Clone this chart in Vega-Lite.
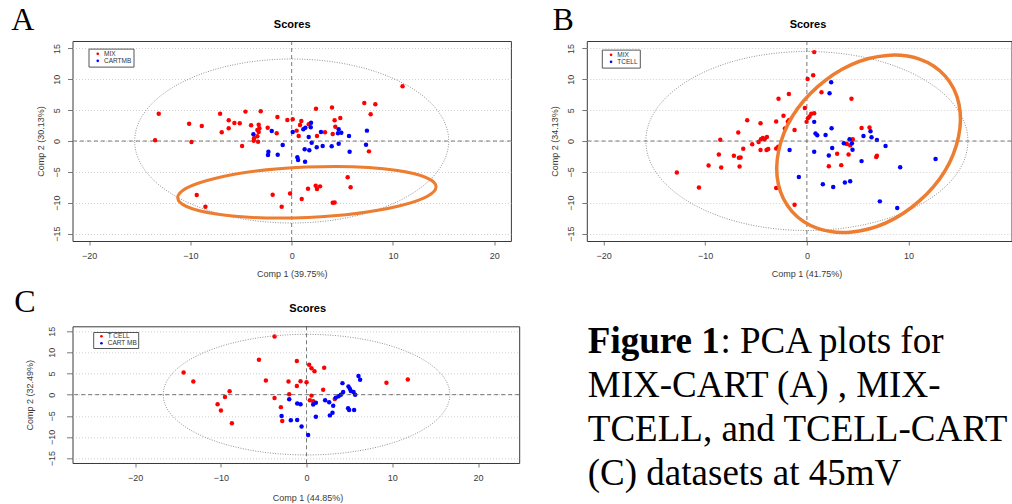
{
  "$schema": "https://vega.github.io/schema/vega-lite/v6.json",
  "padding": {"left": 10.5, "top": 3, "right": 0, "bottom": 0},
  "background": "white",
  "columns": 2,
  "align": "none",
  "bounds": "flush",
  "spacing": {"row": 85.3, "column": 67.3},
  "resolve": {"scale": {"color": "independent"}, "legend": {"color": "independent"}},
  "datasets": {
    "A": [
      {"x":10.95,"y":8.86,"g":"MIX"},{"x":7.17,"y":6.16,"g":"MIX"},{"x":8.26,"y":5.95,"g":"MIX"},{"x":7.8,"y":4.32,"g":"MIX"},{"x":2.4,"y":5.24,"g":"MIX"},{"x":3.98,"y":5.41,"g":"MIX"},{"x":4.8,"y":3.73,"g":"MIX"},{"x":4.24,"y":3.35,"g":"MIX"},{"x":-13.13,"y":4.43,"g":"MIX"},{"x":-13.49,"y":0.11,"g":"MIX"},{"x":-10.13,"y":2.81,"g":"MIX"},{"x":-8.88,"y":2.43,"g":"MIX"},{"x":-9.9,"y":-0.16,"g":"MIX"},{"x":-7.07,"y":4.43,"g":"MIX"},{"x":-6.22,"y":3.35,"g":"MIX"},{"x":-5.66,"y":2.92,"g":"MIX"},{"x":-5.13,"y":2.86,"g":"MIX"},{"x":-4.57,"y":4.76,"g":"MIX"},{"x":-3.06,"y":4.81,"g":"MIX"},{"x":-6.22,"y":2.05,"g":"MIX"},{"x":-6.91,"y":1.41,"g":"MIX"},{"x":-4.01,"y":2.54,"g":"MIX"},{"x":-3.26,"y":2.65,"g":"MIX"},{"x":-3.19,"y":2.05,"g":"MIX"},{"x":-3.39,"y":1.78,"g":"MIX"},{"x":-3.26,"y":1.46,"g":"MIX"},{"x":-3.72,"y":0.43,"g":"MIX"},{"x":-3.75,"y":0.05,"g":"MIX"},{"x":-3.32,"y":-0.11,"g":"MIX"},{"x":-3.39,"y":0.76,"g":"MIX"},{"x":-2.37,"y":2.16,"g":"MIX"},{"x":-1.48,"y":1.24,"g":"MIX"},{"x":-4.9,"y":-0.81,"g":"MIX"},{"x":-1.41,"y":3.89,"g":"MIX"},{"x":-0.43,"y":3.41,"g":"MIX"},{"x":0.1,"y":3.51,"g":"MIX"},{"x":0.95,"y":3.24,"g":"MIX"},{"x":0.82,"y":2.59,"g":"MIX"},{"x":1.68,"y":2.7,"g":"MIX"},{"x":0.49,"y":1.68,"g":"MIX"},{"x":0.69,"y":0.81,"g":"MIX"},{"x":2.5,"y":0.81,"g":"MIX"},{"x":3.29,"y":1.41,"g":"MIX"},{"x":4.31,"y":2.32,"g":"MIX"},{"x":4.05,"y":1.14,"g":"MIX"},{"x":7.63,"y":-1.68,"g":"MIX"},{"x":5.53,"y":-5.89,"g":"MIX"},{"x":5.82,"y":-7.51,"g":"MIX"},{"x":2.37,"y":-7.24,"g":"MIX"},{"x":2.8,"y":-7.35,"g":"MIX"},{"x":2.5,"y":-7.78,"g":"MIX"},{"x":1.61,"y":-7.73,"g":"MIX"},{"x":-0.16,"y":-8.49,"g":"MIX"},{"x":-1.88,"y":-8.7,"g":"MIX"},{"x":0.99,"y":-9.41,"g":"MIX"},{"x":4.05,"y":-10.0,"g":"MIX"},{"x":4.24,"y":-9.95,"g":"MIX"},{"x":-0.99,"y":-10.65,"g":"MIX"},{"x":-9.38,"y":-8.76,"g":"MIX"},{"x":-8.52,"y":-10.65,"g":"MIX"},
      {"x":1.91,"y":2.97,"g":"CARTMB"},{"x":1.35,"y":2.16,"g":"CARTMB"},{"x":1.15,"y":1.89,"g":"CARTMB"},{"x":1.88,"y":2.22,"g":"CARTMB"},{"x":0.1,"y":1.46,"g":"CARTMB"},{"x":-1.97,"y":1.62,"g":"CARTMB"},{"x":-3.78,"y":1.08,"g":"CARTMB"},{"x":-0.89,"y":-0.65,"g":"CARTMB"},{"x":-2.3,"y":-1.73,"g":"CARTMB"},{"x":-2.34,"y":-2.27,"g":"CARTMB"},{"x":-1.38,"y":-2.22,"g":"CARTMB"},{"x":0.56,"y":-2.65,"g":"CARTMB"},{"x":0.63,"y":-3.08,"g":"CARTMB"},{"x":1.32,"y":-3.35,"g":"CARTMB"},{"x":1.28,"y":-1.35,"g":"CARTMB"},{"x":1.74,"y":-1.51,"g":"CARTMB"},{"x":1.68,"y":0.65,"g":"CARTMB"},{"x":1.97,"y":-0.27,"g":"CARTMB"},{"x":2.47,"y":-1.03,"g":"CARTMB"},{"x":3.06,"y":-0.81,"g":"CARTMB"},{"x":3.95,"y":-0.86,"g":"CARTMB"},{"x":4.64,"y":-0.43,"g":"CARTMB"},{"x":2.89,"y":1.46,"g":"CARTMB"},{"x":4.64,"y":1.89,"g":"CARTMB"},{"x":4.9,"y":1.35,"g":"CARTMB"},{"x":4.57,"y":1.24,"g":"CARTMB"},{"x":5.66,"y":0.81,"g":"CARTMB"},{"x":7.43,"y":1.68,"g":"CARTMB"},{"x":7.34,"y":-0.59,"g":"CARTMB"},{"x":5.72,"y":-1.73,"g":"CARTMB"}
    ],
    "B": [
      {"x":0.72,"y":14.4,"g":"MIX"},{"x":0.62,"y":10.65,"g":"MIX"},{"x":0.07,"y":10.05,"g":"MIX"},{"x":1.44,"y":7.88,"g":"MIX"},{"x":-1.77,"y":7.61,"g":"MIX"},{"x":-2.79,"y":6.85,"g":"MIX"},{"x":4.39,"y":6.85,"g":"MIX"},{"x":-0.2,"y":5.33,"g":"MIX"},{"x":0.72,"y":4.51,"g":"MIX"},{"x":0.43,"y":4.4,"g":"MIX"},{"x":0.26,"y":3.97,"g":"MIX"},{"x":0.1,"y":3.7,"g":"MIX"},{"x":-0.03,"y":3.1,"g":"MIX"},{"x":-1.74,"y":3.42,"g":"MIX"},{"x":-1.87,"y":3.15,"g":"MIX"},{"x":-2.3,"y":4.08,"g":"MIX"},{"x":-3.02,"y":3.15,"g":"MIX"},{"x":-2.16,"y":2.01,"g":"MIX"},{"x":-1.21,"y":1.79,"g":"MIX"},{"x":-5.87,"y":3.37,"g":"MIX"},{"x":-4.56,"y":2.88,"g":"MIX"},{"x":-6.75,"y":1.36,"g":"MIX"},{"x":-8.52,"y":0.22,"g":"MIX"},{"x":-8.66,"y":-2.17,"g":"MIX"},{"x":-9.67,"y":-3.97,"g":"MIX"},{"x":-8.43,"y":-4.29,"g":"MIX"},{"x":-7.18,"y":-2.39,"g":"MIX"},{"x":-6.69,"y":-2.72,"g":"MIX"},{"x":-6.52,"y":-2.66,"g":"MIX"},{"x":-6.62,"y":-4.13,"g":"MIX"},{"x":-6.26,"y":-1.25,"g":"MIX"},{"x":-5.38,"y":-0.54,"g":"MIX"},{"x":-4.75,"y":-0.16,"g":"MIX"},{"x":-4.52,"y":0.27,"g":"MIX"},{"x":-4.33,"y":0.49,"g":"MIX"},{"x":-4.16,"y":0.27,"g":"MIX"},{"x":-3.93,"y":0.65,"g":"MIX"},{"x":-4.56,"y":-1.47,"g":"MIX"},{"x":-3.97,"y":-1.47,"g":"MIX"},{"x":-3.8,"y":-1.3,"g":"MIX"},{"x":-3.02,"y":-1.2,"g":"MIX"},{"x":-2.82,"y":-0.92,"g":"MIX"},{"x":-12.79,"y":-5.11,"g":"MIX"},{"x":-10.62,"y":-7.55,"g":"MIX"},{"x":-3.02,"y":-7.61,"g":"MIX"},{"x":-1.21,"y":-10.33,"g":"MIX"},{"x":5.38,"y":2.12,"g":"MIX"},{"x":6.16,"y":2.17,"g":"MIX"},{"x":3.93,"y":-0.49,"g":"MIX"},{"x":4.26,"y":-0.71,"g":"MIX"},{"x":4.52,"y":0.27,"g":"MIX"},{"x":2.98,"y":-2.07,"g":"MIX"},{"x":4.1,"y":-2.17,"g":"MIX"},{"x":6.89,"y":-2.39,"g":"MIX"},{"x":6.82,"y":-2.61,"g":"MIX"},{"x":2.16,"y":-4.08,"g":"MIX"},{"x":3.38,"y":-3.91,"g":"MIX"},
      {"x":2.39,"y":9.51,"g":"TCELL"},{"x":2.23,"y":7.72,"g":"TCELL"},{"x":0.72,"y":3.1,"g":"TCELL"},{"x":2.43,"y":2.07,"g":"TCELL"},{"x":0.85,"y":1.2,"g":"TCELL"},{"x":1.02,"y":0.92,"g":"TCELL"},{"x":1.84,"y":0.98,"g":"TCELL"},{"x":3.64,"y":-0.38,"g":"TCELL"},{"x":4.2,"y":0.27,"g":"TCELL"},{"x":4.43,"y":-0.38,"g":"TCELL"},{"x":4.49,"y":-1.41,"g":"TCELL"},{"x":2.49,"y":-1.14,"g":"TCELL"},{"x":0.72,"y":-1.74,"g":"TCELL"},{"x":2.16,"y":-2.34,"g":"TCELL"},{"x":-1.7,"y":-1.47,"g":"TCELL"},{"x":5.57,"y":0.82,"g":"TCELL"},{"x":6.26,"y":1.58,"g":"TCELL"},{"x":6.36,"y":0.6,"g":"TCELL"},{"x":6.89,"y":0.16,"g":"TCELL"},{"x":7.74,"y":-0.82,"g":"TCELL"},{"x":5.38,"y":-3.26,"g":"TCELL"},{"x":9.18,"y":-4.24,"g":"TCELL"},{"x":-0.79,"y":-5.82,"g":"TCELL"},{"x":1.57,"y":-7.01,"g":"TCELL"},{"x":2.59,"y":-7.45,"g":"TCELL"},{"x":3.74,"y":-6.74,"g":"TCELL"},{"x":4.26,"y":-6.52,"g":"TCELL"},{"x":12.66,"y":-2.93,"g":"TCELL"},{"x":7.18,"y":-9.78,"g":"TCELL"},{"x":8.89,"y":-10.87,"g":"TCELL"}
    ],
    "C": [
      {"x":-3.73,"y":13.75,"g":"T CELL"},{"x":-5.55,"y":8.24,"g":"T CELL"},{"x":-1.13,"y":7.93,"g":"T CELL"},{"x":0.31,"y":7.07,"g":"T CELL"},{"x":0.58,"y":6.22,"g":"T CELL"},{"x":0.93,"y":5.52,"g":"T CELL"},{"x":2.06,"y":6.37,"g":"T CELL"},{"x":-14.33,"y":5.21,"g":"T CELL"},{"x":-13.2,"y":3.11,"g":"T CELL"},{"x":-4.74,"y":3.34,"g":"T CELL"},{"x":-2.1,"y":3.11,"g":"T CELL"},{"x":-0.7,"y":3.19,"g":"T CELL"},{"x":0.0,"y":2.95,"g":"T CELL"},{"x":-1.13,"y":2.02,"g":"T CELL"},{"x":-2.02,"y":0.08,"g":"T CELL"},{"x":1.94,"y":1.17,"g":"T CELL"},{"x":0.58,"y":-0.23,"g":"T CELL"},{"x":-8.97,"y":0.78,"g":"T CELL"},{"x":-9.51,"y":-0.54,"g":"T CELL"},{"x":-10.37,"y":-2.25,"g":"T CELL"},{"x":-9.98,"y":-3.73,"g":"T CELL"},{"x":-8.7,"y":-6.76,"g":"T CELL"},{"x":-3.73,"y":-0.78,"g":"T CELL"},{"x":-2.99,"y":-2.95,"g":"T CELL"},{"x":-2.83,"y":-6.22,"g":"T CELL"},{"x":0.39,"y":-1.32,"g":"T CELL"},{"x":0.78,"y":-1.55,"g":"T CELL"},{"x":3.3,"y":-1.01,"g":"T CELL"},{"x":9.32,"y":2.8,"g":"T CELL"},{"x":11.81,"y":3.57,"g":"T CELL"},
      {"x":6.06,"y":4.43,"g":"CART MB"},{"x":6.25,"y":3.5,"g":"CART MB"},{"x":4.19,"y":2.72,"g":"CART MB"},{"x":4.89,"y":1.94,"g":"CART MB"},{"x":5.05,"y":1.4,"g":"CART MB"},{"x":5.17,"y":0.85,"g":"CART MB"},{"x":5.48,"y":0.62,"g":"CART MB"},{"x":5.67,"y":0.0,"g":"CART MB"},{"x":4.27,"y":0.62,"g":"CART MB"},{"x":4.0,"y":0.0,"g":"CART MB"},{"x":3.73,"y":-0.39,"g":"CART MB"},{"x":3.42,"y":-0.7,"g":"CART MB"},{"x":-2.02,"y":-1.09,"g":"CART MB"},{"x":-1.09,"y":-2.1,"g":"CART MB"},{"x":-0.7,"y":-2.25,"g":"CART MB"},{"x":0.78,"y":-2.33,"g":"CART MB"},{"x":1.09,"y":-1.94,"g":"CART MB"},{"x":2.17,"y":-1.32,"g":"CART MB"},{"x":2.64,"y":-1.79,"g":"CART MB"},{"x":3.11,"y":-2.64,"g":"CART MB"},{"x":3.03,"y":-4.27,"g":"CART MB"},{"x":2.72,"y":-4.9,"g":"CART MB"},{"x":1.09,"y":-5.21,"g":"CART MB"},{"x":4.85,"y":-3.19,"g":"CART MB"},{"x":4.97,"y":-3.65,"g":"CART MB"},{"x":5.55,"y":-3.65,"g":"CART MB"},{"x":-2.91,"y":-5.05,"g":"CART MB"},{"x":-1.83,"y":-6.06,"g":"CART MB"},{"x":-1.09,"y":-5.98,"g":"CART MB"},{"x":-0.58,"y":-7.54,"g":"CART MB"},{"x":0.19,"y":-9.56,"g":"CART MB"}
    ]
  },
  "concat": [
    {
      "width": 438.4, "height": 200,
      "title": {"text": "A", "anchor": "start", "frame": "group", "dx": -61.3, "offset": -44, "font": "Liberation Serif", "fontSize": 32, "fontWeight": "normal", "color": "#000", "baseline": "alphabetic", "align": "left"},
      "resolve": {"scale": {"x": "independent"}},
      "layer": [
        {"data": {"values": [{}]}, "mark": {"type": "rule", "color": "#555", "strokeDash": [4, 3], "strokeWidth": 0.8},
         "encoding": {"x": {"datum": 0, "type": "quantitative", "scale": {"domain": [-21.65, 21.65], "nice": false, "zero": false},
           "axis": {"orient": "top", "title": "Scores", "labels": false, "ticks": false, "domain": false, "grid": false, "titleFontSize": 11, "titleFontWeight": "bold", "titleColor": "#000", "titlePadding": 11.7}}}},
        {"layer": [
          {"data": {"name": "A"}, "mark": {"type": "point", "filled": true, "size": 20, "opacity": 1},
           "encoding": {
             "x": {"field": "x", "type": "quantitative", "scale": {"domain": [-21.65, 21.65], "nice": false, "zero": false}, "axis": {"title": "Comp 1 (39.75%)", "labelOverlap": false, "values": [-20, -10, 0, 10, 20]}},
             "y": {"field": "y", "type": "quantitative", "scale": {"domain": [-16.2, 16.2], "nice": false, "zero": false}, "axis": {"title": "Comp 2 (30.13%)", "labelOverlap": false, "labelAngle": 270, "tickCount": 7}},
             "color": {"field": "g", "type": "nominal", "scale": {"domain": ["MIX", "CARTMB"], "range": ["#FF0000", "#0000FF"]}, "legend": {"title": null, "orient": "none", "legendX": 16, "legendY": 7.6}}}},
          {"data": {"values": [{}]}, "mark": {"type": "point", "shape": "M-157,0A157,82,0,1,1,157,0A157,82,0,1,1,-157,0Z", "size": 4, "filled": false, "color": "#767676", "strokeWidth": 0.8, "strokeDash": [1, 1.5], "opacity": 1},
           "encoding": {"x": {"datum": 0, "type": "quantitative"}, "y": {"datum": 0, "type": "quantitative"}}},
          {"data": {"values": [{}]}, "mark": {"type": "rule", "color": "#555", "strokeDash": [4, 3], "strokeWidth": 0.8},
           "encoding": {"y": {"datum": 0, "type": "quantitative"}}},
          {"data": {"values": [{}]}, "mark": {"type": "point", "shape": "M-129.3,0A129.3,25.2,0,1,1,129.3,0A129.3,25.2,0,1,1,-129.3,0Z", "size": 4, "filled": false, "color": "#ED7D31", "strokeWidth": 3, "angle": 357.5, "opacity": 1},
           "encoding": {"x": {"datum": 1.5, "type": "quantitative"}, "y": {"datum": -8.3, "type": "quantitative"}}}
        ]}
      ]
    },
    {
      "width": 424.7, "height": 200,
      "title": {"text": "B", "anchor": "start", "frame": "group", "dx": -34.3, "offset": -44, "font": "Liberation Serif", "fontSize": 32, "fontWeight": "normal", "color": "#000", "baseline": "alphabetic", "align": "left"},
      "resolve": {"scale": {"x": "independent"}},
      "layer": [
        {"data": {"values": [{}]}, "mark": {"type": "rule", "color": "#555", "strokeDash": [4, 3], "strokeWidth": 0.8},
         "encoding": {"x": {"datum": 0, "type": "quantitative", "scale": {"domain": [-21.65, 20.13], "nice": false, "zero": false},
           "axis": {"orient": "top", "title": "Scores", "titleX": 220.7, "labels": false, "ticks": false, "domain": false, "grid": false, "titleFontSize": 11, "titleFontWeight": "bold", "titleColor": "#000", "titlePadding": 11.7}}}},
        {"layer": [
          {"data": {"name": "B"}, "mark": {"type": "point", "filled": true, "size": 20, "opacity": 1},
           "encoding": {
             "x": {"field": "x", "type": "quantitative", "scale": {"domain": [-21.65, 20.13], "nice": false, "zero": false}, "axis": {"title": "Comp 1 (41.75%)", "titleX": 219.7, "labelOverlap": false, "values": [-20, -10, 0, 10]}},
             "y": {"field": "y", "type": "quantitative", "scale": {"domain": [-16.2, 16.2], "nice": false, "zero": false}, "axis": {"title": "Comp 2 (34.13%)", "labelOverlap": false, "labelAngle": 270, "tickCount": 7}},
             "color": {"field": "g", "type": "nominal", "scale": {"domain": ["MIX", "TCELL"], "range": ["#FF0000", "#0000FF"]}, "legend": {"title": null, "orient": "none", "legendX": 15, "legendY": 8.6}}}},
          {"data": {"values": [{}]}, "mark": {"type": "point", "shape": "M-161,0A161,89.5,0,1,1,161,0A161,89.5,0,1,1,-161,0Z", "size": 4, "filled": false, "color": "#767676", "strokeWidth": 0.8, "strokeDash": [1, 1.5], "opacity": 1},
           "encoding": {"x": {"datum": 0, "type": "quantitative"}, "y": {"datum": 0, "type": "quantitative"}}},
          {"data": {"values": [{}]}, "mark": {"type": "rule", "color": "#555", "strokeDash": [4, 3], "strokeWidth": 0.8},
           "encoding": {"y": {"datum": 0, "type": "quantitative"}}},
          {"data": {"values": [{}]}, "mark": {"type": "point", "shape": "M-102.2,0A102.2,76.5,0,1,1,102.2,0A102.2,76.5,0,1,1,-102.2,0Z", "size": 4, "filled": false, "color": "#ED7D31", "strokeWidth": 3.5, "angle": 318.6, "opacity": 1},
           "encoding": {"x": {"datum": 6.07, "type": "quantitative"}, "y": {"datum": -0.45, "type": "quantitative"}}}
        ]}
      ]
    },
    {
      "width": 446.7, "height": 136.7,
      "title": {"text": "C", "anchor": "start", "frame": "group", "dx": -58.3, "offset": -41.7, "font": "Liberation Serif", "fontSize": 32, "fontWeight": "normal", "color": "#000", "baseline": "alphabetic", "align": "left"},
      "resolve": {"scale": {"x": "independent"}},
      "layer": [
        {"data": {"values": [{}]}, "mark": {"type": "rule", "color": "#555", "strokeDash": [4, 3], "strokeWidth": 0.8},
         "encoding": {"x": {"datum": 0, "type": "quantitative", "scale": {"domain": [-27.29, 24.8], "nice": false, "zero": false},
           "axis": {"orient": "top", "title": "Scores", "titleX": 234.7, "labels": false, "ticks": false, "domain": false, "grid": false, "titleFontSize": 11, "titleFontWeight": "bold", "titleColor": "#000", "titlePadding": 13}}}},
        {"layer": [
          {"data": {"name": "C"}, "mark": {"type": "point", "filled": true, "size": 20, "opacity": 1},
           "encoding": {
             "x": {"field": "x", "type": "quantitative", "scale": {"domain": [-27.29, 24.8], "nice": false, "zero": false}, "axis": {"title": "Comp 1 (44.85%)", "titleX": 235, "titlePadding": 11, "labelOverlap": false, "values": [-20, -10, 0, 10, 20]}},
             "y": {"field": "y", "type": "quantitative", "scale": {"domain": [-16.15, 16.15], "nice": false, "zero": false}, "axis": {"title": "Comp 2 (32.49%)", "tickSize": 6, "labelPadding": 10.5, "titlePadding": 12.6, "labelOverlap": false, "labelAngle": 270, "tickCount": 7}},
             "color": {"field": "g", "type": "nominal", "scale": {"domain": ["T CELL", "CART MB"], "range": ["#FF0000", "#0000FF"]}, "legend": {"title": null, "orient": "none", "legendX": 20.7, "legendY": 5.7, "rowPadding": -3.2, "padding": 1}}}},
          {"data": {"values": [{}]}, "mark": {"type": "point", "shape": "M-143.3,0A143.3,60.3,0,1,1,143.3,0A143.3,60.3,0,1,1,-143.3,0Z", "size": 4, "filled": false, "color": "#767676", "strokeWidth": 0.8, "strokeDash": [1, 1.5], "opacity": 1},
           "encoding": {"x": {"datum": 0, "type": "quantitative"}, "y": {"datum": 0, "type": "quantitative"}}},
          {"data": {"values": [{}]}, "mark": {"type": "rule", "color": "#555", "strokeDash": [4, 3], "strokeWidth": 0.8},
           "encoding": {"y": {"datum": 0, "type": "quantitative"}}}
        ]}
      ]
    },
    {
      "width": 416, "height": 136.7,
      "view": {"stroke": null},
      "layer": [
        {"data": {"values": [{"line": 1, "text": "Figure 1"}]},
         "mark": {"type": "text", "font": "Liberation Serif", "fontSize": 37, "fontWeight": "bold", "align": "left", "baseline": "alphabetic", "color": "#000"},
         "encoding": {"x": {"value": 1}, "y": {"field": "line", "type": "quantitative", "scale": {"domain": [1, 4], "range": [27, 159]}, "axis": null}, "text": {"field": "text"}}},
        {"data": {"values": [{"line": 1, "text": ": PCA plots for"}]},
         "mark": {"type": "text", "font": "Liberation Serif", "fontSize": 37, "fontWeight": "normal", "align": "left", "baseline": "alphabetic", "color": "#000", "dx": 132.6},
         "encoding": {"x": {"value": 1}, "y": {"field": "line", "type": "quantitative", "scale": {"domain": [1, 4], "range": [27, 159]}, "axis": null}, "text": {"field": "text"}}},
        {"data": {"values": [{"line": 2, "text": "MIX-CART (A) , MIX-"}, {"line": 3, "text": "TCELL, and TCELL-CART"}, {"line": 4, "text": "(C) datasets at 45mV"}]},
         "mark": {"type": "text", "font": "Liberation Serif", "fontSize": 37, "fontWeight": "normal", "align": "left", "baseline": "alphabetic", "color": "#000"},
         "encoding": {"x": {"value": 1}, "y": {"field": "line", "type": "quantitative", "scale": {"domain": [1, 4], "range": [27, 159]}, "axis": null}, "text": {"field": "text"}}}
      ]
    }
  ],
  "config": {
    "font": "Liberation Sans",
    "view": {"stroke": "#3a3a3a", "strokeWidth": 1},
    "axis": {"domain": false, "grid": true, "gridColor": "#c4c4c4", "gridDash": [1, 2], "gridWidth": 0.8, "ticks": true, "tickColor": "#555", "tickWidth": 0.8, "labelColor": "#3a3a3a", "labelFontSize": 9, "labelFont": "Liberation Sans", "titleColor": "#3a3a3a", "titleFontSize": 9, "titleFontWeight": "normal", "titleFont": "Liberation Sans", "labelFlush": false, "labelOverlap": false},
    "axisBottom": {"tickSize": 4, "labelPadding": 6.4, "titlePadding": 9},
    "axisLeft": {"tickSize": 5, "labelAlign": "center", "labelBaseline": "bottom", "labelPadding": 6.5, "titlePadding": 6.8},
    "legend": {"labelFontSize": 6.5, "labelColor": "#333", "labelFont": "Liberation Sans", "symbolSize": 7, "symbolType": "circle", "symbolStrokeWidth": 0, "rowPadding": -1.5, "padding": 2, "strokeColor": "#555", "strokeWidth": 1, "symbolOffset": 4, "labelOffset": 3, "fillColor": "white"}
  }
}
